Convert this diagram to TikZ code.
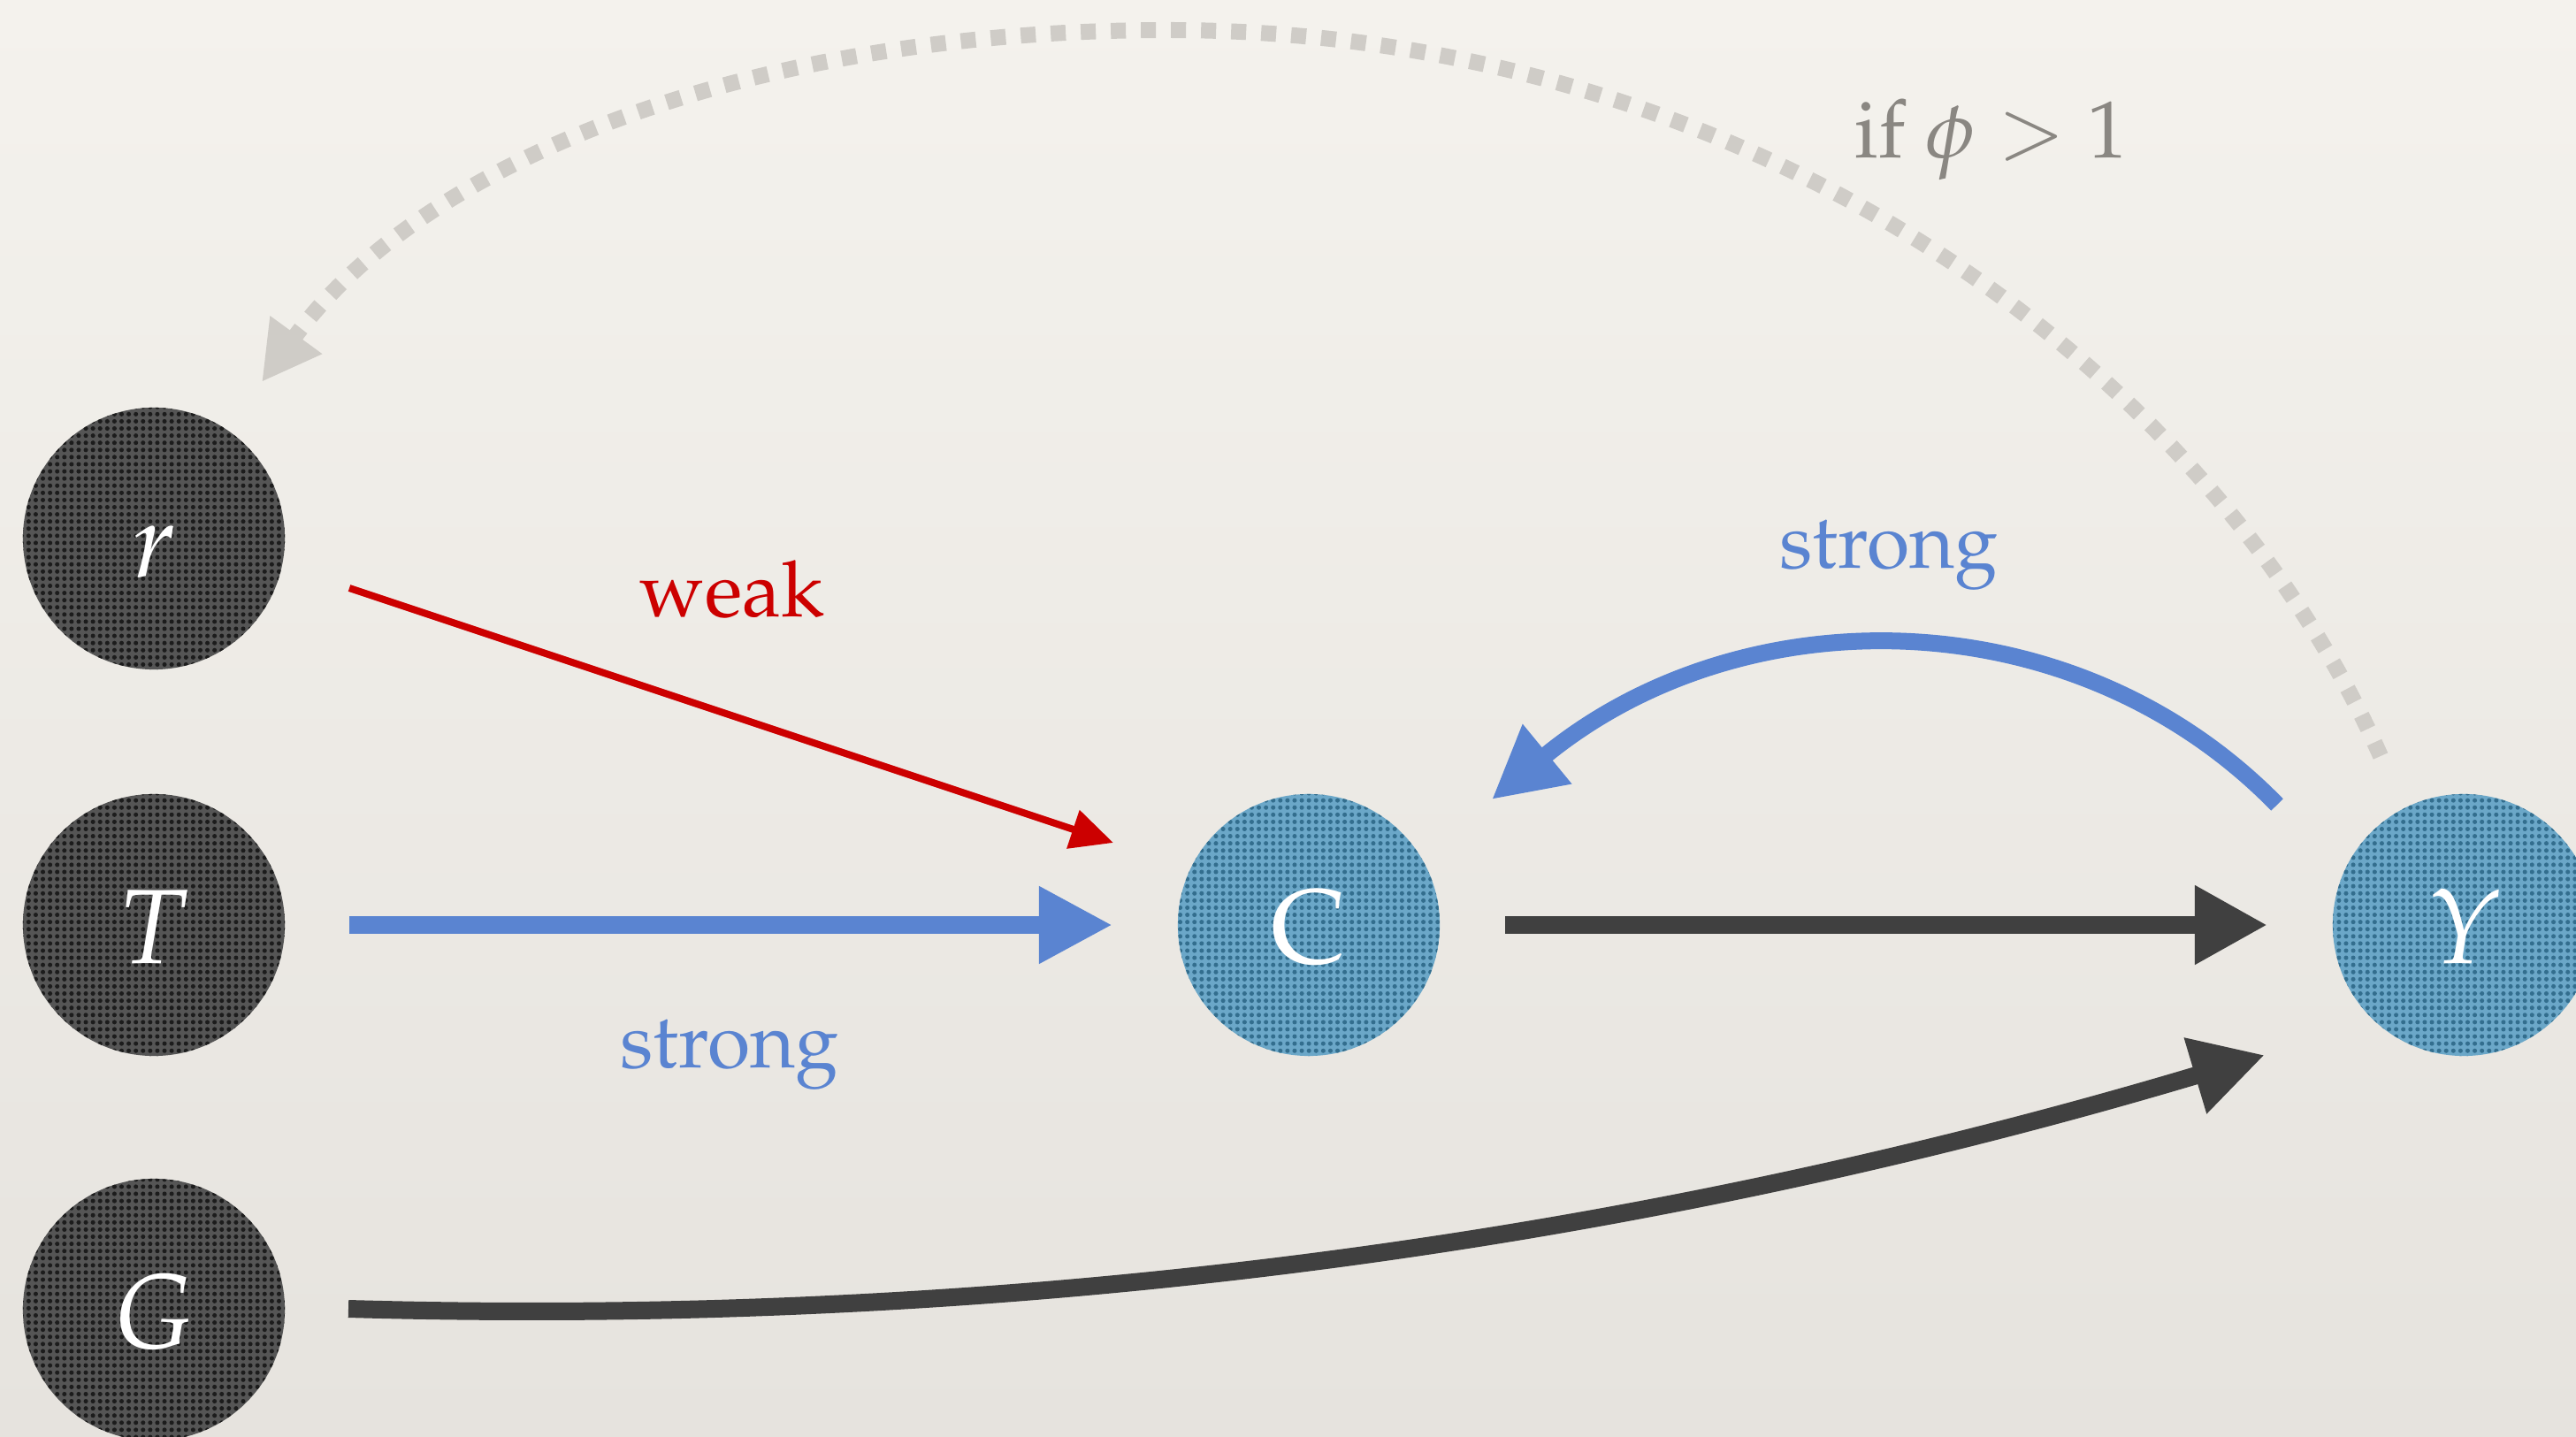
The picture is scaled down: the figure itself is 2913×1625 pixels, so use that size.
\documentclass[tikz,border=0pt]{standalone}
\usepackage[T1]{fontenc}
\usepackage{mathpazo}
\usetikzlibrary{arrows.meta,calc,patterns}
\definecolor{bgtop}{HTML}{F4F2ED}
\definecolor{bgbot}{HTML}{E6E3DE}
\definecolor{darkfill}{HTML}{555555}
\definecolor{darkdot}{HTML}{1C1C1C}
\definecolor{bluefill}{HTML}{6BA7C8}
\definecolor{bluedot}{HTML}{336E8E}
\definecolor{arrred}{HTML}{CC0000}
\definecolor{arrblue}{HTML}{5A84D1}
\definecolor{arrdark}{HTML}{404040}
\definecolor{dotgray}{HTML}{CFCCC7}
\definecolor{labgray}{HTML}{8A8782}
\pgfdeclarepatternformonly{halftone}{\pgfqpoint{-1pt}{-1pt}}{\pgfqpoint{1pt}{1pt}}{\pgfqpoint{2.3pt}{2.3pt}}{%
  \pgfpathcircle{\pgfqpoint{0pt}{0pt}}{0.72pt}\pgfusepath{fill}}
\begin{document}
\begin{tikzpicture}[x=0.01cm, y=-0.01cm,
  varnode/.style={circle, minimum size=2.96cm, inner sep=0pt, text=white,
    font=\fontsize{34}{40}\selectfont, text height=0.86cm, text depth=0pt},
  darknode/.style={varnode, fill=darkfill, postaction={pattern=halftone, pattern color=darkdot}},
  bluenode/.style={varnode, fill=bluefill, postaction={pattern=halftone, pattern color=bluedot}},
  lab/.style={anchor=base, inner sep=0pt, font=\fontsize{25}{30}\selectfont},
  weakarrow/.style={draw=arrred, line width=0.08cm, -{Triangle[length=0.48cm,width=0.44cm]}},
  bluearrow/.style={draw=arrblue, line width=0.2cm, -{Triangle[length=0.83cm,width=0.82cm]}},
  bluecurve/.style={draw=arrblue, line width=0.19cm, -{Triangle[length=0.81cm,width=0.82cm]}},
  darkarrow/.style={draw=arrdark, line width=0.2cm, -{Triangle[length=0.82cm,width=0.84cm]}},
  feedback/.style={draw=dotgray, line width=0.18cm, dash pattern=on 0.17cm off 0.17cm,
    -{Triangle[length=0.66cm,width=0.68cm]}}
]
\useasboundingbox (0,0) rectangle (2913,1625);
\shade[top color=bgtop, bottom color=bgbot] (0,0) rectangle (2913,1625);

% variables
\node[darknode] (r) at (174,609) {\textit{r}};
\node[darknode] (T) at (174,1046) {\textit{T}};
\node[darknode] (G) at (174,1481) {\textit{G}};
\node[bluenode] (C) at (1480,1046) {C};
\node[bluenode] (Y) at (2786,1046) {\textit{Y}};

% labels
\node[lab, text=arrred] (lweak) at (828,697) {weak};
\node[lab, text=arrblue] (lstrong1) at (825,1207) {strong};
\node[lab, text=arrblue] (lstrong2) at (2136,642) {strong};
\node[lab, text=labgray, font=\fontsize{26}{31}\selectfont] (lphi) at (2252,179) {if $\phi > 1$};

% connectors
\draw[weakarrow] ($(r)+(221,56)$) -- ($(C)+(-221,-93)$);
\draw[bluearrow] ($(T)+(221,0)$) -- ($(C)+(-222,0)$);
\draw[darkarrow] ($(C)+(222,0)$) -- ($(Y)+(-222,0)$);
\draw[bluecurve] ($(Y)+(-211,-136)$) .. controls +(-228,-234) and +(285,-234) .. ($(C)+(207,-142)$);
\draw[darkarrow] ($(G)+(220,-1)$) .. controls +(700,20) and +(-761,227) .. ($(Y)+(-225,147)$);
\coordinate (apex) at (1321,34);
\draw[feedback] ($(Y)+(-94,-191)$) .. controls +(-200,-450) and +(650,0) .. (apex)
   .. controls +(-471,0) and +(184,-252) .. ($(r)+(122,-177)$);
\end{tikzpicture}
\end{document}
